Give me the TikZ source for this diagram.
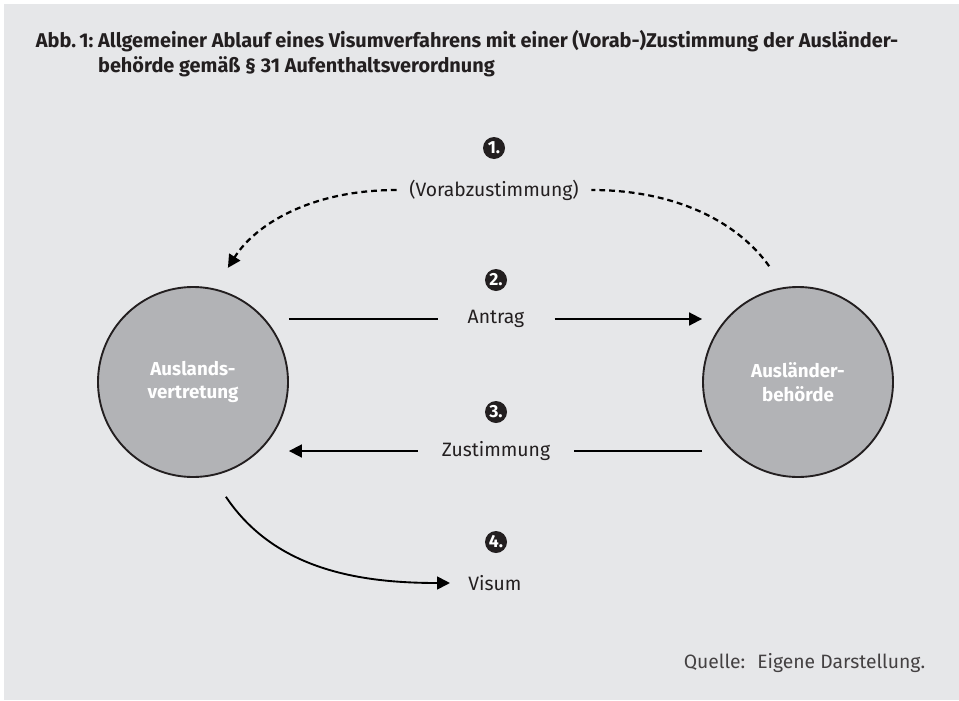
\documentclass[tikz,border=0pt]{standalone}
\usepackage{fontspec}
\setmainfont{Fira Sans}
\usetikzlibrary{arrows.meta}

\definecolor{grund}{HTML}{E6E7E9}
\definecolor{kreis}{HTML}{B2B3B6}
\definecolor{schwarz}{HTML}{231F20}

\begin{document}
\begin{tikzpicture}[x=0.03cm,y=-0.03cm,line width=1.6pt,
  every node/.style={text=schwarz,font=\fontsize{16.5}{21}\selectfont},
  >={Triangle[length=11pt,width=11pt]},
  behoerde/.style={circle,draw=schwarz,fill=kreis,minimum size=5.7cm,inner sep=0pt,
    text=white,align=center,font=\fontsize{16}{20}\selectfont\bfseries},
  nummer/.style={circle,fill=schwarz,text=white,inner sep=0pt,minimum size=0.66cm,
    font=\fontsize{15}{15}\selectfont\bfseries},
  strich/.style={line width=1.9pt,dash pattern=on 5pt off 3.4pt}]
\fill[white] (0,0) rectangle (959,700);
\fill[grund] (4,4) rectangle (959,700);
\useasboundingbox (0,0) rectangle (959,700);

\node[anchor=base west,inner sep=0pt,font=\fontsize{17}{21.3}\selectfont\bfseries] (titel) at (35,60)
  {\begin{tabular}{@{}l@{\ }l@{}}
   Abb.\,1: & Allgemeiner Ablauf eines Visumverfahrens mit einer (Vorab-)Zustimmung der Ausländer-\\
            & behörde gemäß § 31 Aufenthaltsverordnung
   \end{tabular}};

% die beiden Behoerden
\node[behoerde] (ausv) at (193,382) {Auslands-\\vertretung};
\node[behoerde] (abh) at (798,382) {Ausländer-\\behörde};

% Nummern
\node[nummer] (n1) at (494,148) {1.};
\node[nummer] (n2) at (496,280) {2.};
\node[nummer] (n3) at (496,412) {3.};
\node[nummer] (n4) at (496,542) {4.};

% Beschriftungen
\node[inner xsep=10pt] (vorab) at (494,190) {(Vorabzustimmung)};
\node[inner xsep=25pt] (antrag) at (496,319) {Antrag};
\node[inner xsep=20pt] (zust) at (496,451) {Zustimmung};
\node[inner xsep=15pt] (visum) at (495,583) {Visum};

\coordinate (d1) at ([shift={(104:20pt)}]abh.104);
\coordinate (d2) at ([shift={(73:20pt)}]ausv.73);
\coordinate (v0) at ([shift={(-74:20pt)}]ausv.-74);

\draw[strich] (d1) .. controls (740,225) and (680,190) .. (vorab.east);
\draw[strich,->] (vorab.west) .. controls (310,190) and (255,225) .. (d2);

\draw (ausv.east |- antrag) -- (antrag);
\draw[->] (antrag) -- (abh.west |- antrag);

\draw (abh.west |- zust) -- (zust);
\draw[->] (zust) -- (ausv.east |- zust);

\draw[->] (v0) .. controls (275,570) and (360,583) .. (visum.west);

\node[anchor=base east,text=schwarz!85] (quelle) at (930,668) {Quelle:~ Eigene Darstellung.};
\end{tikzpicture}
\end{document}
